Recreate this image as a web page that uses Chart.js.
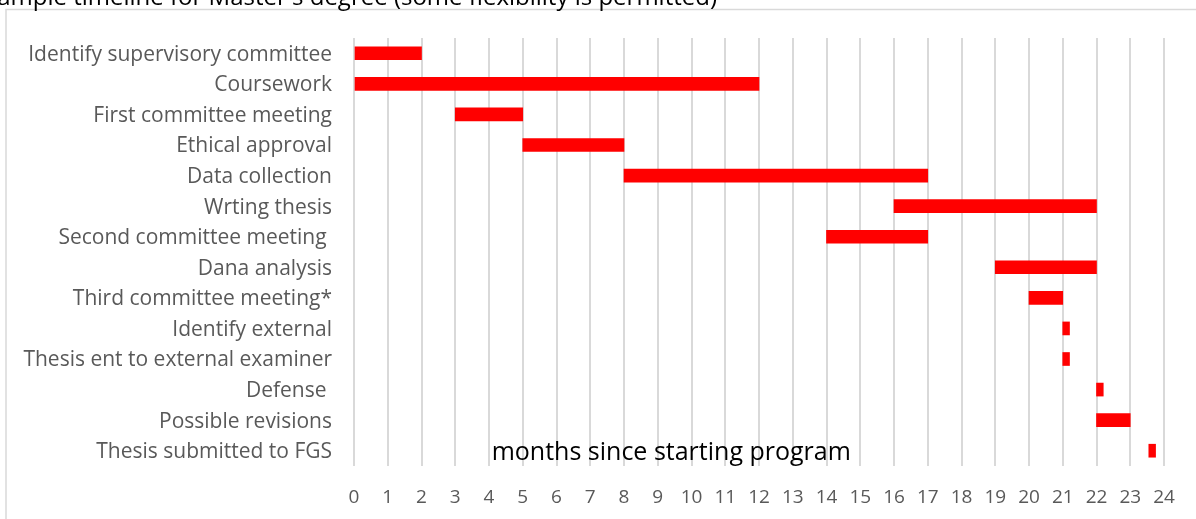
<!DOCTYPE html>
<html>
<head>
<meta charset="utf-8">
<script src="https://cdn.jsdelivr.net/npm/chart.js@4.4.1/dist/chart.umd.min.js"></script>
<style>
  html, body { margin: 0; padding: 0; background: #fff; overflow: hidden; }
</style>
</head>
<body>
<canvas id="timeline" width="1196" height="519"></canvas>
<script>
// timeline rows, top to bottom
const tasks = [
  'Identify supervisory committee',
  'Coursework',
  'First committee meeting',
  'Ethical approval',
  'Data collection',
  'Wrting thesis',
  'Second committee meeting ',
  'Dana analysis',
  'Third committee meeting*',
  'Identify external',
  'Thesis ent to external examiner',
  'Defense ',
  'Possible revisions',
  'Thesis submitted to FGS'
]
// month each task starts / ends
const startMonth = [0, 0, 3, 5, 8, 16, 14, 19, 20, 21, 21, 22, 22, 23.55]
const endMonth = [2, 12, 5, 8, 17, 22, 17, 22, 21, 21.2, 21.2, 22.2, 23, 23.75]
const monthTicks = [0, 1, 2, 3, 4, 5, 6, 7, 8, 9, 10, 11, 12, 13, 14, 15, 16, 17, 18, 19, 20, 21, 22, 23, 24]

const chartTitle = "Sample timeline for Master's degree (some flexibility is permitted)"
const axisTitle = 'months since starting program'

const FONT = '"Open Sans", Lato, sans-serif'

// outer frame, cropped title and the in-plot axis caption
const decorations = {
  id: 'decorations',
  beforeDraw(chart) {
    const ctx = chart.ctx
    ctx.save()
    ctx.strokeStyle = '#d9d9d9'
    ctx.lineWidth = 1.5
    ctx.strokeRect(6, 9.5, 1400, 700)
    ctx.fillStyle = '#000'
    ctx.font = '24px ' + FONT
    ctx.textAlign = 'right'
    ctx.textBaseline = 'alphabetic'
    ctx.fillText(chartTitle, 717, 5)
    ctx.restore()
  },
  afterDatasetsDraw(chart) {
    const { ctx, scales } = chart
    ctx.save()
    ctx.fillStyle = '#000'
    ctx.font = '25px ' + FONT
    ctx.textAlign = 'center'
    ctx.textBaseline = 'middle'
    ctx.fillText(axisTitle, scales.x.getPixelForValue(9.4), scales.y.getPixelForValue(tasks.length - 1) + 2)
    ctx.restore()
  }
}

new Chart(document.getElementById('timeline'), {
  type: 'bar',
  data: {
    labels: tasks,
    datasets: [{
      data: tasks.map((t, i) => [startMonth[i], endMonth[i]]),
      backgroundColor: '#ff0000',
      borderWidth: 0,
      borderSkipped: false,
      barThickness: 13
    }]
  },
  options: {
    indexAxis: 'y',
    responsive: false,
    animation: false,
    layout: {
      padding: { left: 6, right: 32, top: 38, bottom: 0 }
    },
    plugins: {
      legend: { display: false },
      tooltip: { enabled: false }
    },
    scales: {
      x: {
        min: monthTicks[0],
        max: monthTicks[monthTicks.length - 1],
        afterBuildTicks(scale) {
          scale.ticks = monthTicks.map((v) => ({ value: v }))
        },
        afterFit(scale) { scale.height = 53 },
        grid: {
          color: '#d9d9d9',
          lineWidth: 2,
          drawTicks: false
        },
        border: { display: false },
        ticks: {
          padding: 20,
          color: '#595959',
          font: { family: FONT, size: 19 },
          maxRotation: 0,
          autoSkip: false
        }
      },
      y: {
        afterFit(scale) { scale.width = 348 },
        grid: { display: false, drawTicks: false },
        border: { display: false },
        ticks: {
          padding: 22,
          labelOffset: 1.5,
          color: '#595959',
          font: { family: FONT, size: 21 },
          autoSkip: false
        }
      }
    }
  },
  plugins: [decorations]
})
</script>
</body>
</html>
